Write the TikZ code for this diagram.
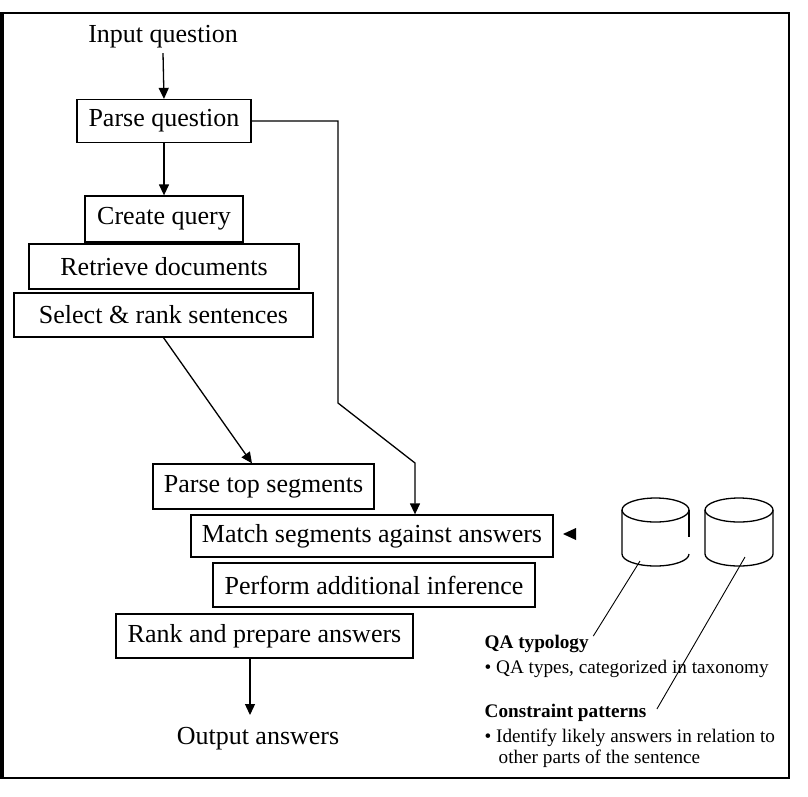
\documentclass[tikz,border=0pt]{standalone}
\usepackage{fontspec}
\setmainfont{Liberation Serif}
\usetikzlibrary{arrows.meta}

\tikzset{
  stage/.style={draw, line width=1.3pt, inner sep=0pt, font=\fontsize{26}{29}\selectfont},
  label/.style={inner sep=0pt, font=\fontsize{26}{29}\selectfont},
  note/.style={inner sep=0pt, anchor=base west, font=\fontsize{19.2}{22}\selectfont},
  >={Triangle[length=11pt,width=10pt]}
}

\begin{document}
\begin{tikzpicture}[x=1pt,y=-1pt,line width=1.3pt]
\useasboundingbox (0,0) rectangle (808,796);
% frame
\draw [line width=2.5pt] (2,13) -- (789,13) -- (789,778) -- (2,778);
\draw [line width=4pt] (2,12) -- (2,779);
% pipeline
\node [label] (input) at (163,37) {Input question};
\node [stage, minimum width=174pt, minimum height=43pt] (parse) at (164,121) {Parse question};
\node [stage, minimum width=158pt, minimum height=46pt] (query) at (164,219) {Create query};
\node [stage, minimum width=270pt, minimum height=45pt] (retrieve) at (164,266.5) {Retrieve documents};
\node [stage, minimum width=299pt, minimum height=44pt] (select) at (163.5,315) {Select \& rank sentences};
\node [stage, minimum width=221pt, minimum height=45pt] (segs) at (263.5,486.5) {Parse top segments};
\node [stage, minimum width=362pt, minimum height=42pt] (match) at (372,536) {Match segments against answers};
\node [stage, minimum width=322pt, minimum height=44pt] (infer) at (374,585) {Perform additional inference};
\node [stage, minimum width=297pt, minimum height=44pt] (rank) at (264.5,636) {Rank and prepare answers};
\node [label] (output) at (258,739) {Output answers};
% arrows
\coordinate (bendA) at (338,403);
\coordinate (bendB) at (415,463);
\coordinate (outTip) at (250,715);
\draw [->] (input.south) ++(0,4) -- (parse.north);
\draw [->] (parse.south) -- (query.north);
\draw [->] (select.south) -- ([xshift=-11.5pt]segs.north);
\draw [->] (parse.east) -| (bendA) -- (bendB) -- (bendB |- match.north);
\draw [->] (rank.south -| outTip) -- (outTip);
% pointer to match box
\fill (563,534) -- (576,528) -- (576,540) -- cycle;
% knowledge bases
\draw (655.5,510) ellipse [x radius=33.5pt, y radius=12pt];
\draw (622,510) -- (622,554) arc [start angle=180, end angle=360, x radius=33.5pt, y radius=12pt];
\draw (689,510) -- (689,537);
\draw (739,510) ellipse [x radius=34pt, y radius=12pt];
\draw (705,510) -- (705,554) arc [start angle=180, end angle=360, x radius=34pt, y radius=12pt] -- (773,510);
% notes
\node [note] (typo) at (484,648) {\textbf{QA typology}};
\node [note] (typoA) at (484,673) {\textbullet\ QA types, categorized in taxonomy};
\node [note] (cons) at (484,717) {\textbf{Constraint patterns}};
\node [note] (consA) at (484,742) {\textbullet\ Identify likely answers in relation to};
\node [note] (consB) at (498,763) {other parts of the sentence};
\coordinate (dbA) at (640,561);
\coordinate (dbB) at (745,557);
\draw [line width=0.9pt] (dbA) -- ([xshift=4pt,yshift=-2pt]typo.north east);
\draw [line width=0.9pt] (dbB) -- ([xshift=10pt,yshift=-6pt]cons.north east);
\end{tikzpicture}
\end{document}
